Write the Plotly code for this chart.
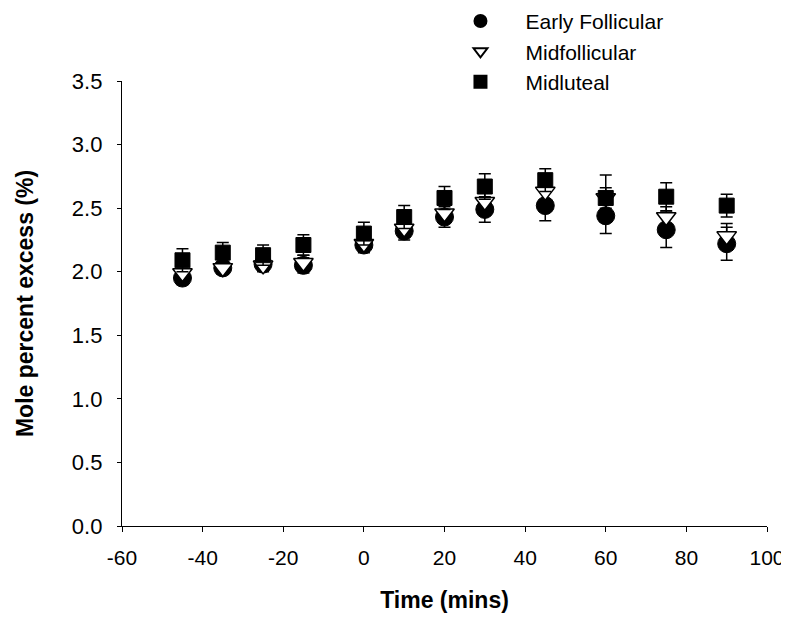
import plotly.graph_objects as go

time = [-45, -35, -25, -15, 0, 10, 20, 30, 45, 60, 75, 90]

early_follicular = [1.95, 2.03, 2.06, 2.05, 2.21, 2.32, 2.43, 2.49, 2.52, 2.44, 2.33, 2.22]
early_follicular_err = [0.05, 0.05, 0.05, 0.06, 0.06, 0.07, 0.08, 0.10, 0.12, 0.14, 0.14, 0.13]

midfollicular = [1.99, 2.03, 2.05, 2.07, 2.22, 2.34, 2.46, 2.55, 2.63, 2.58, 2.43, 2.28]
midfollicular_err = [0.05, 0.05, 0.05, 0.06, 0.06, 0.07, 0.07, 0.08, 0.08, 0.18, 0.08, 0.10]

midluteal = [2.09, 2.15, 2.13, 2.21, 2.30, 2.43, 2.58, 2.67, 2.72, 2.58, 2.59, 2.52]
midluteal_err = [0.09, 0.08, 0.08, 0.08, 0.09, 0.09, 0.09, 0.10, 0.09, 0.08, 0.11, 0.09]

x_ticks = [-60, -40, -20, 0, 20, 40, 60, 80, 100]
y_ticks = [0.0, 0.5, 1.0, 1.5, 2.0, 2.5, 3.0, 3.5]

FONT = "Liberation Sans, Arial, sans-serif"

fig = go.Figure()

err_style = dict(type="data", visible=True, color="black", thickness=1.5, width=6)

fig.add_trace(go.Scatter(
    x=time, y=early_follicular, mode="markers", name="Early Follicular",
    error_y=dict(array=early_follicular_err, **err_style),
    marker=dict(symbol="circle", size=18, color="black", line=dict(color="black", width=1)),
))
fig.add_trace(go.Scatter(
    x=time, y=midfollicular, mode="markers", name="Midfollicular",
    error_y=dict(array=midfollicular_err, **err_style),
    marker=dict(symbol="triangle-down", size=17, color="white", line=dict(color="black", width=1.5)),
))
fig.add_trace(go.Scatter(
    x=time, y=midluteal, mode="markers", name="Midluteal",
    error_y=dict(array=midluteal_err, **err_style),
    marker=dict(symbol="square", size=15, color="black", line=dict(color="black", width=1)),
))

fig.update_layout(
    width=789, height=622,
    margin=dict(l=114, r=30, t=73, b=104, autoexpand=False),
    plot_bgcolor="white", paper_bgcolor="white",
    font=dict(family=FONT, size=22, color="black"),
    showlegend=True,
    legend=dict(
        x=0.486, y=1.18, xanchor="left", yanchor="top",
        font=dict(family=FONT, size=21, color="black"),
        bgcolor="rgba(0,0,0,0)", tracegroupgap=0, itemsizing="constant",
        itemwidth=80,
    ),
    xaxis=dict(
        range=[-60, 100], tickvals=x_ticks, ticktext=[str(v) for v in x_ticks],
        showgrid=False, zeroline=False, showline=True, linecolor="black", linewidth=1.3,
        ticks="outside", ticklen=5, tickcolor="black", ticklabelstandoff=8,
        tickfont=dict(family=FONT, size=21),
        title=dict(text="<b>Time (mins)</b>", font=dict(family=FONT, size=23), standoff=23),
    ),
    yaxis=dict(
        range=[0, 3.5], tickvals=y_ticks, ticktext=[f"{v:.1f}" for v in y_ticks],
        showgrid=False, zeroline=False, showline=True, linecolor="black", linewidth=1.3,
        ticks="outside", ticklen=4, tickcolor="black", ticklabelstandoff=10,
        title=dict(text="<b>Mole percent excess (%)</b>", font=dict(family=FONT, size=23), standoff=31),
    ),
)

fig.write_html("out.html")
